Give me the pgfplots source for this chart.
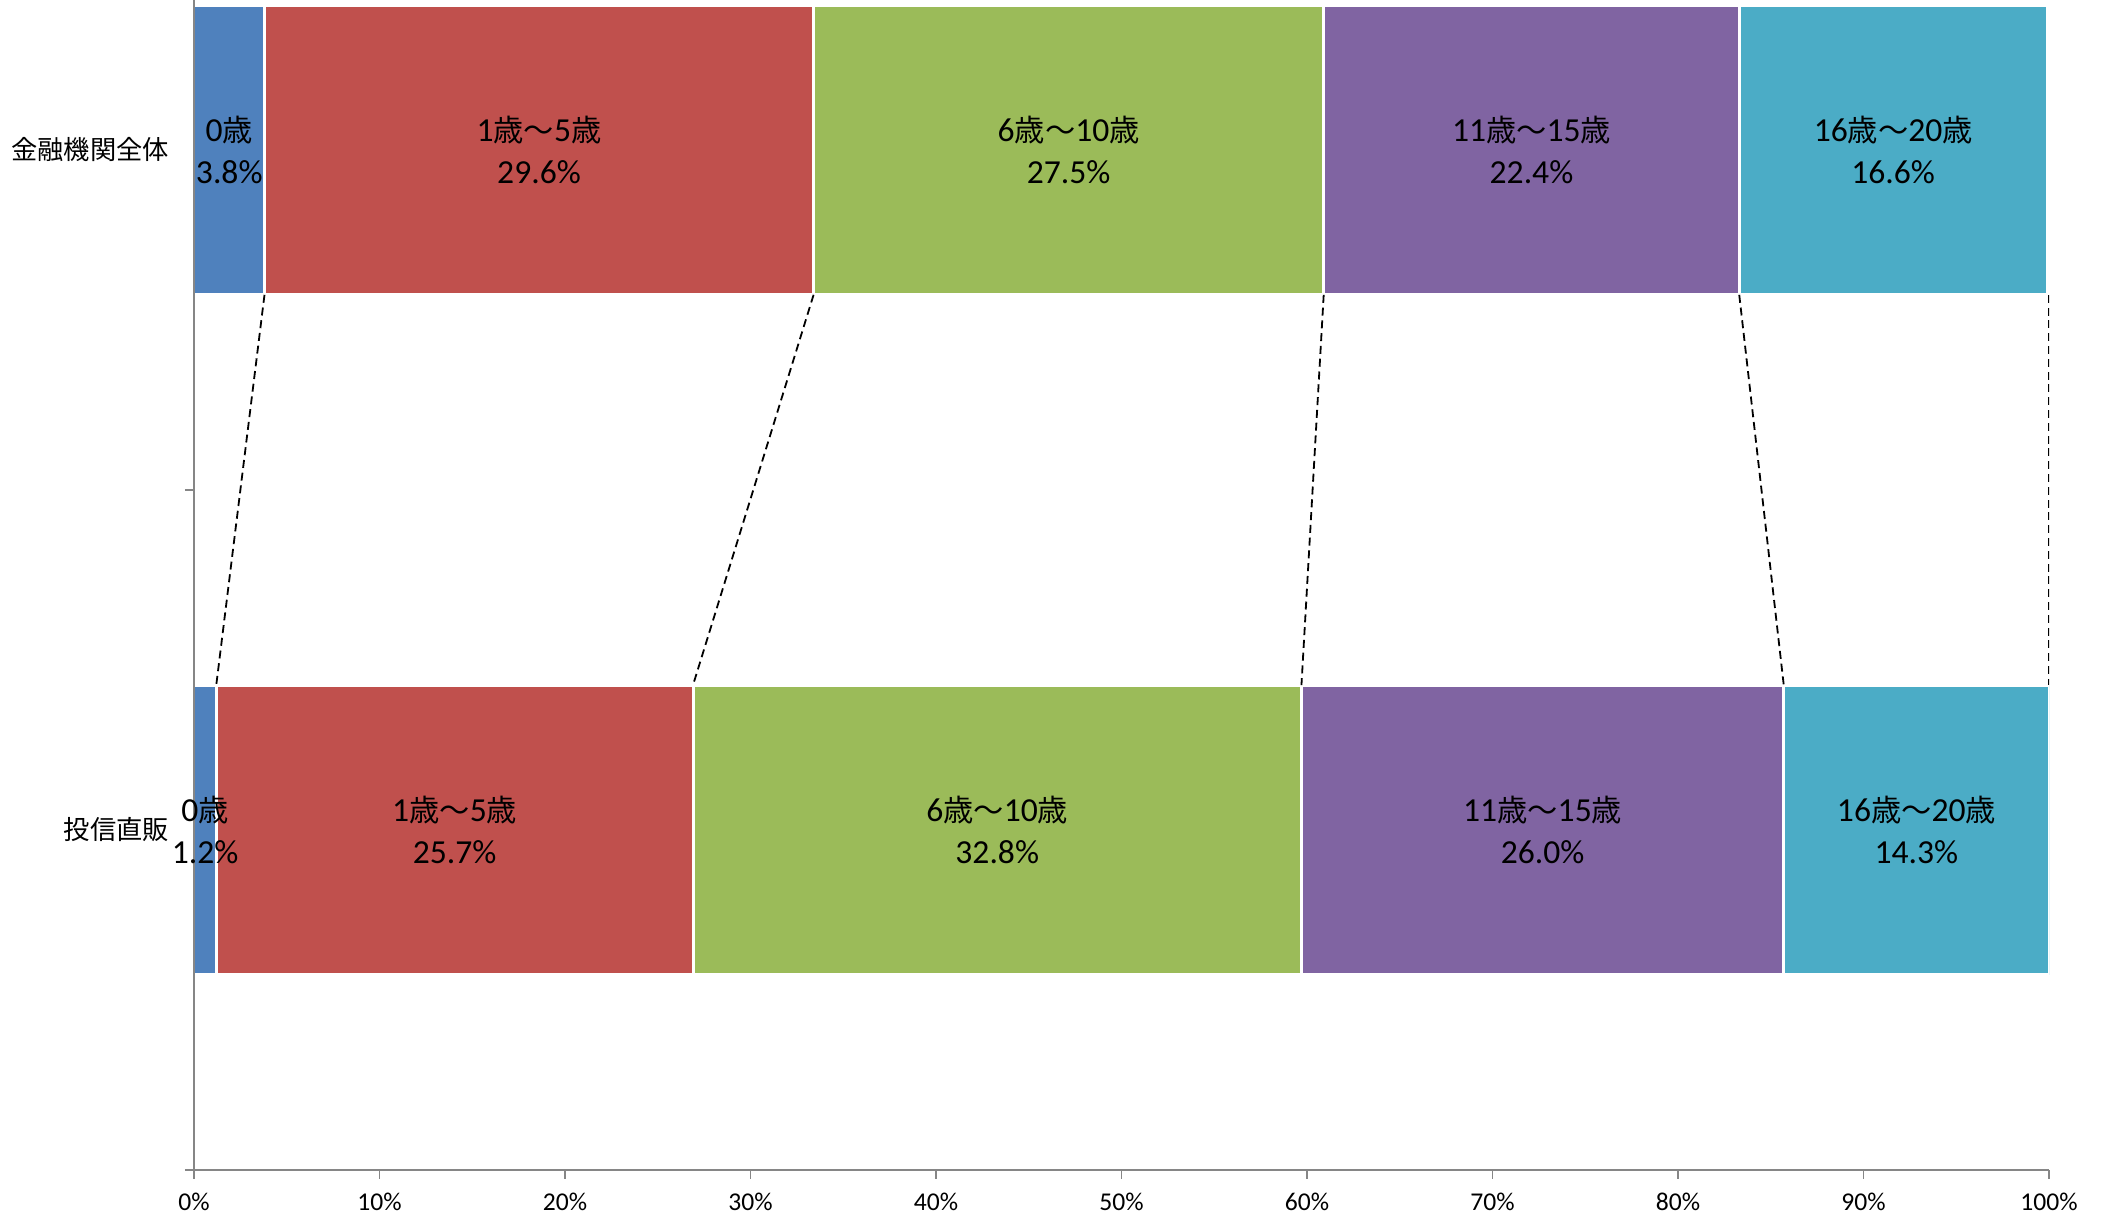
\documentclass[border=0pt]{standalone}
\usepackage{pgfplots}
\usepackage{pgfplotstable}
\pgfplotsset{compat=1.18}
\usepackage{fontspec}
\setmainfont{Carlito}
\newfontfamily\jp{Noto Sans CJK JP}[Scale=0.9]
\newcommand{\sai}{{\jp 歳}}
\newcommand{\kara}{{\jp ～}}

\definecolor{s0}{HTML}{4F81BD}
\definecolor{s1}{HTML}{C0504D}
\definecolor{s2}{HTML}{9BBB59}
\definecolor{s3}{HTML}{8064A2}
\definecolor{s4}{HTML}{4BACC6}
\definecolor{axisgray}{HTML}{868686}

% y=0: 投信直販, y=1: 金融機関全体 (shares in %)
\pgfplotstableread{
y a0  a1   a2   a3   a4
0 1.2 25.7 32.8 26.0 14.3
1 3.8 29.6 27.5 22.4 16.6
}\ages

\pgfplotsset{
  base/.style={
    at={(0,0)}, anchor=south west,
    scale only axis, width=463.75pt, height=292.5pt,
    xmin=0, xmax=100, ymin=-0.5, ymax=1.2206,
  },
  band/.style={
    fill=#1, draw=white, line width=0.75pt,
  },
  series line/.style={
    black, line width=0.45pt, dash pattern=on 2pt off 1.2pt,
  },
  lbl/.style={
    draw=none, nodes near coords={#1\\\pgfplotspointmeta\%},
  },
}

\begin{document}
\begin{tikzpicture}
% stacked bars and axes
\begin{axis}[base,
  xbar stacked, bar width=0.426,
  axis lines*=left, axis on top,
  axis line style={axisgray, line width=0.4pt},
  tick align=outside, major tick length=2.25pt,
  tick style={axisgray, line width=0.4pt},
  xtick={0,10,20,30,40,50,60,70,80,90,100},
  xticklabels={0\%,10\%,20\%,30\%,40\%,50\%,60\%,70\%,80\%,90\%,100\%},
  xticklabel style={font=\fontsize{6.4pt}{7pt}\selectfont, text=black},
  ytick={-0.5,0.5}, yticklabels={},
  extra y ticks={0,1},
  extra y tick labels={投信直販,金融機関全体},
  extra y tick style={major tick length=0pt,
    yticklabel style={font=\fontsize{7.3pt}{8pt}\selectfont\jp, text=black, xshift=-2.7pt}},
]
  \addplot[band=s0] table[x=a0, y=y]{\ages};
  \addplot[band=s1] table[x=a1, y=y]{\ages};
  \addplot[band=s2] table[x=a2, y=y]{\ages};
  \addplot[band=s3] table[x=a3, y=y]{\ages};
  \addplot[band=s4] table[x=a4, y=y]{\ages};
\end{axis}

% series lines and the labels in the middle of each band
\begin{axis}[base, hide axis,
  point meta=explicit symbolic,
  every node near coord/.append style={anchor=center, align=center,
    font=\fontsize{8.4pt}{10.5pt}\selectfont, text=black, inner sep=0pt},
]
  \addplot[series line] coordinates {(3.8,0.787) (1.2,0.213)};
  \addplot[series line] coordinates {(33.4,0.787) (26.9,0.213)};
  \addplot[series line] coordinates {(60.9,0.787) (59.7,0.213)};
  \addplot[series line] coordinates {(83.3,0.787) (85.7,0.213)};
  \addplot[series line] coordinates {(100,0.787) (100,0.213)};

  \addplot[lbl={0\sai}]
    table[x expr=\thisrow{a0}/2, y=y, meta=a0]{\ages};
  \addplot[lbl={1\sai\kara 5\sai}]
    table[x expr=\thisrow{a0}+\thisrow{a1}/2, y=y, meta=a1]{\ages};
  \addplot[lbl={6\sai\kara 10\sai}]
    table[x expr=\thisrow{a0}+\thisrow{a1}+\thisrow{a2}/2, y=y, meta=a2]{\ages};
  \addplot[lbl={11\sai\kara 15\sai}]
    table[x expr=\thisrow{a0}+\thisrow{a1}+\thisrow{a2}+\thisrow{a3}/2, y=y, meta=a3]{\ages};
  \addplot[lbl={16\sai\kara 20\sai}]
    table[x expr=\thisrow{a0}+\thisrow{a1}+\thisrow{a2}+\thisrow{a3}+\thisrow{a4}/2, y=y, meta=a4]{\ages};
\end{axis}
\pgfresetboundingbox
\useasboundingbox (-48.5pt,-11.5pt) rectangle (477.75pt,292.5pt);
\end{tikzpicture}
\end{document}
